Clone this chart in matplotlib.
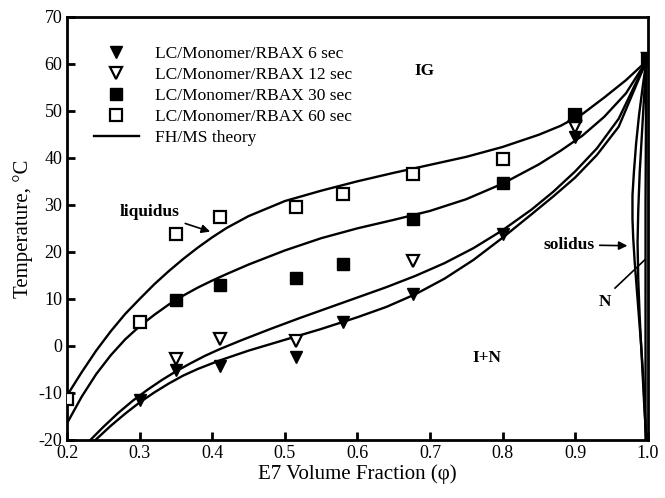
import matplotlib
matplotlib.use("Agg")
import matplotlib.pyplot as plt

plt.rcParams['font.family'] = ['Liberation Serif', 'DejaVu Serif']
plt.rcParams['axes.unicode_minus'] = False

# measured points (E7 volume fraction, temperature in C)
x6 = [0.30, 0.35, 0.41, 0.515, 0.58, 0.677, 0.80, 0.90, 1.0]
y6 = [-11.5, -5.1, -4.3, -2.3, 5.1, 11.1, 23.8, 44.5, 61]
x12 = [0.35, 0.41, 0.515, 0.677, 0.90, 1.0]
y12 = [-2.8, 1.5, 1.1, 18.0, 46.5, 61]
x30 = [0.35, 0.41, 0.515, 0.58, 0.677, 0.80, 0.90, 1.0]
y30 = [9.8, 13.0, 14.5, 17.4, 27.0, 34.7, 48.8, 61]
x60 = [0.20, 0.30, 0.35, 0.41, 0.515, 0.58, 0.677, 0.80, 0.90, 1.0]
y60 = [-11.3, 5.1, 23.8, 27.4, 29.6, 32.3, 36.6, 39.8, 49.0, 61]

# FH/MS theory liquidus lines
liq60_x = [0.20, 0.22, 0.24, 0.26, 0.28, 0.30, 0.32, 0.34, 0.36, 0.38, 0.40, 0.42, 0.45, 0.50,
           0.55, 0.60, 0.65, 0.70, 0.75, 0.80, 0.85, 0.88, 0.91, 0.94, 0.97, 0.998]
liq60_y = [-10.5, -5.6, -1.0, 3.1, 6.8, 10.0, 13.1, 15.9, 18.5, 20.9, 23.1, 25.1, 27.6, 30.8,
           33.0, 35.0, 36.8, 38.5, 40.2, 42.3, 44.9, 46.8, 49.3, 52.8, 56.5, 60.5]
liq30_x = [0.20, 0.22, 0.24, 0.26, 0.28, 0.30, 0.32, 0.34, 0.36, 0.38, 0.40, 0.42, 0.45, 0.50,
           0.55, 0.60, 0.65, 0.70, 0.75, 0.80, 0.85, 0.88, 0.91, 0.94, 0.97, 0.998]
liq30_y = [-16.4, -10.8, -6.0, -2.0, 1.4, 4.2, 6.6, 8.8, 10.7, 12.4, 13.9, 15.3, 17.3, 20.3,
           22.9, 25.0, 26.8, 28.7, 31.2, 34.5, 38.6, 41.5, 44.7, 48.7, 53.7, 60.5]
liq12_x = [0.232, 0.25, 0.27, 0.29, 0.31, 0.33, 0.35, 0.37, 0.39, 0.41, 0.44, 0.48, 0.52, 0.56,
           0.60, 0.64, 0.68, 0.72, 0.76, 0.80, 0.84, 0.87, 0.90, 0.93, 0.96, 0.998]
liq12_y = [-20, -17.2, -14.3, -11.7, -9.4, -7.3, -5.4, -3.7, -2.1, -0.7, 1.2, 3.6, 5.9, 8.1,
           10.3, 12.5, 14.9, 17.6, 20.8, 24.6, 29.0, 32.8, 37.1, 42.0, 48.3, 60.5]
liq6_x = [0.239, 0.26, 0.28, 0.30, 0.32, 0.34, 0.36, 0.38, 0.41, 0.45, 0.50, 0.55, 0.60, 0.64,
          0.68, 0.72, 0.76, 0.80, 0.84, 0.87, 0.90, 0.93, 0.96, 0.998]
liq6_y = [-20, -17.0, -14.4, -12.0, -9.9, -8.0, -6.3, -4.9, -3.1, -1.0, 1.3, 3.6, 6.1, 8.3,
          11.0, 14.3, 18.3, 23.0, 28.0, 31.8, 35.8, 40.6, 46.6, 60.5]

# solidus lines close to pure E7
sol1_x = [0.998, 0.993, 0.988, 0.984, 0.981, 0.979, 0.979, 0.980, 0.982, 0.985, 0.988, 0.991, 0.994, 0.996, 0.998]
sol1_y = [60.5, 55, 49, 43, 37, 32, 27, 23, 18, 12, 6, 0, -7, -14, -20]
sol2_x = [0.998, 0.995, 0.992, 0.989, 0.987, 0.986, 0.987, 0.989, 0.992, 0.995, 0.998]
sol2_y = [60.5, 53, 45, 37, 29, 22, 14, 6, -3, -12, -20]
sol3_x = [0.998, 0.997, 0.997]
sol3_y = [60.5, 30, -20]

fig = plt.figure(figsize=(6.65, 4.98), dpi=100)
ax = fig.add_axes([0.101, 0.1165, 0.873, 0.85])

lw = 1.7
for xs, ys in [(liq60_x, liq60_y), (liq30_x, liq30_y), (liq12_x, liq12_y), (liq6_x, liq6_y),
               (sol1_x, sol1_y), (sol2_x, sol2_y), (sol3_x, sol3_y)]:
    ax.plot(xs, ys, color='black', lw=lw, zorder=2)

h6, = ax.plot(x6, y6, 'v', color='black', ms=9, ls='none', zorder=3)
h12, = ax.plot(x12, y12, 'v', mfc='white', mec='black', mew=1.6, ms=9, ls='none', zorder=3)
h60, = ax.plot(x60, y60, 's', mfc='white', mec='black', mew=1.6, ms=8, ls='none', zorder=3)
h30, = ax.plot(x30, y30, 's', color='black', ms=8, ls='none', zorder=4)
hth, = ax.plot([], [], color='black', lw=lw)

ax.set_xlim(0.2, 1.0)
ax.set_ylim(-20, 70)
ax.set_xticks([0.2, 0.3, 0.4, 0.5, 0.6, 0.7, 0.8, 0.9, 1.0])
ax.set_xticklabels(['0.2', '0.3', '0.4', '0.5', '0.6', '0.7', '0.8', '0.9', '1.0'])
ax.set_yticks(range(-20, 71, 10))
ax.tick_params(direction='in', length=6, width=2, labelsize=13)
for s in ax.spines.values():
    s.set_linewidth(2)
ax.set_xlabel('E7 Volume Fraction (φ)', fontsize=15, labelpad=2)
ax.set_ylabel('Temperature, °C', fontsize=15)

ax.legend([h6, h12, h30, h60, hth],
          ['LC/Monomer/RBAX 6 sec', 'LC/Monomer/RBAX 12 sec', 'LC/Monomer/RBAX 30 sec',
           'LC/Monomer/RBAX 60 sec', 'FH/MS theory'],
          loc='upper left', bbox_to_anchor=(0.028, 0.955), frameon=False, fontsize=12.5,
          handlelength=2.6, handletextpad=0.9, labelspacing=0.27, borderaxespad=0.2)

bold = dict(fontsize=12.5, fontweight='bold')
ax.text(0.693, 58.5, 'IG', ha='center', va='center', **bold)
ax.text(0.778, -2.5, 'I+N', ha='center', va='center', **bold)
ax.text(0.941, 9.4, 'N', ha='center', va='center', **bold)
ax.plot([0.955, 0.996], [12.3, 18.3], color='black', lw=1.2)
ax.annotate('liquidus', xy=(0.397, 24.3), xytext=(0.314, 28.5), ha='center', va='center',
            arrowprops=dict(arrowstyle='-|>', color='black', lw=1.2, shrinkA=2, shrinkB=0), **bold)
ax.annotate('solidus', xy=(0.972, 21.3), xytext=(0.891, 21.5), ha='center', va='center',
            arrowprops=dict(arrowstyle='-|>', color='black', lw=1.2, shrinkA=2, shrinkB=0), **bold)

fig.savefig('out.png', dpi=100)
plt.close(fig)
